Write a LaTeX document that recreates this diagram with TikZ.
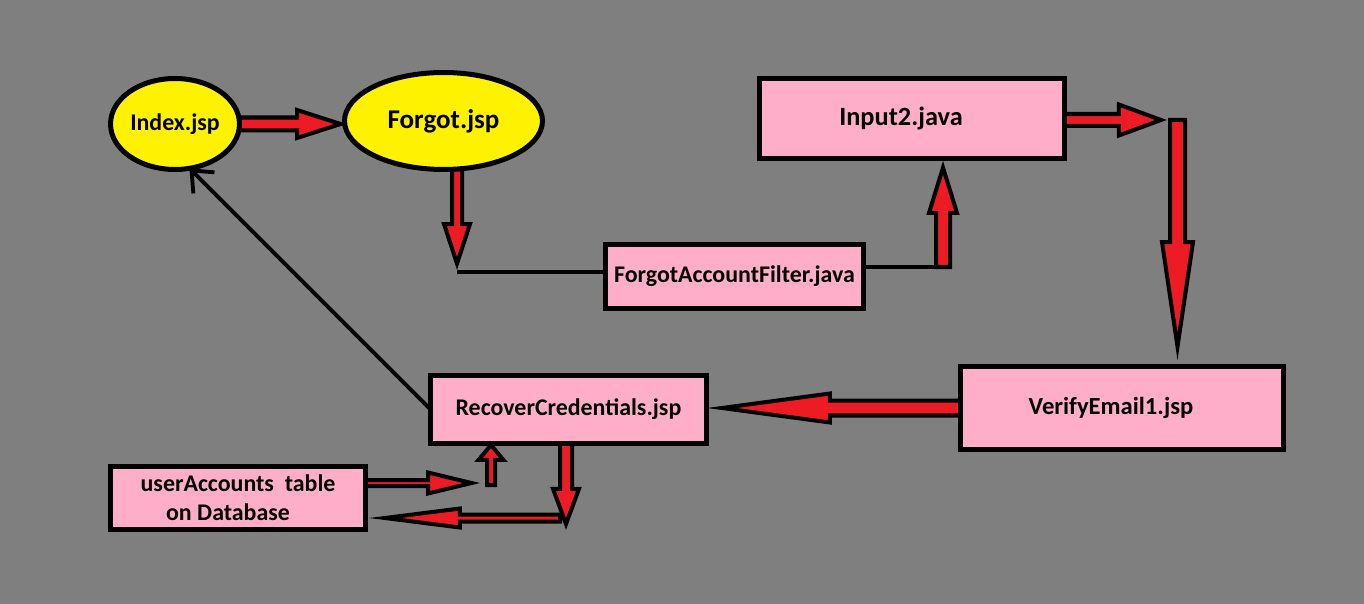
\documentclass[tikz,border=0pt]{standalone}
\usepackage{fontspec}
\setmainfont{Carlito}
\usetikzlibrary{shapes.geometric,calc,arrows.meta}
\definecolor{bgray}{HTML}{7F7F7F}
\definecolor{bpink}{HTML}{FFAEC9}
\definecolor{byel}{HTML}{FFF200}
\definecolor{bred}{HTML}{ED1C24}
\pgfdeclarelayer{back}
\pgfdeclarelayer{arr}
\pgfsetlayers{back,arr,main}
\def\pxpt{0.569055}
% block arrow: #1 start, #2 tip, #3 shaft half width, #4 head half width, #5 head length (px)
\newcommand\barrow[5]{%
\draw[blockarr] let \p1=#1, \p2=#2,
  \n1={veclen(\x2-\x1,\y2-\y1)},
  \n2={(\x2-\x1)/(\n1)}, \n3={(\y2-\y1)/(\n1)},
  \n4={(#3)*\pxpt}, \n5={(#4)*\pxpt}, \n6={(#5)*\pxpt}
 in
 ({\x1-(\n3)*(\n4)},{\y1+(\n2)*(\n4)}) --
 ({\x2-(\n2)*(\n6)-(\n3)*(\n4)},{\y2-(\n3)*(\n6)+(\n2)*(\n4)}) --
 ({\x2-(\n2)*(\n6)-(\n3)*(\n5)},{\y2-(\n3)*(\n6)+(\n2)*(\n5)}) --
 (\p2) --
 ({\x2-(\n2)*(\n6)+(\n3)*(\n5)},{\y2-(\n3)*(\n6)-(\n2)*(\n5)}) --
 ({\x2-(\n2)*(\n6)+(\n3)*(\n4)},{\y2-(\n3)*(\n6)-(\n2)*(\n4)}) --
 ({\x1+(\n3)*(\n4)},{\y1-(\n2)*(\n4)}) -- cycle;}
\begin{document}
\begin{tikzpicture}[x=0.02cm,y=-0.02cm,
  box/.style={draw=black, line width=2.85pt, fill=bpink, inner sep=0pt, outer sep=0pt,
    font=\bfseries\fontsize{13.6}{16.5}\selectfont},
  ell/.style={ellipse, draw=black, line width=2.85pt, fill=byel, inner sep=0pt, outer sep=0pt},
  blockarr/.style={draw=black, fill=bred, line width=2.28pt, line join=miter, miter limit=20},
  conn/.style={draw=black, line width=2.2pt}]
\begin{pgfonlayer}{back}
\fill[bgray] (0,0) rectangle (1364,604);
\end{pgfonlayer}
\useasboundingbox (0,0) rectangle (1364,604);

\node[ell, minimum width=2.58cm, minimum height=1.82cm, font=\bfseries\fontsize{13.6}{16}\selectfont] (idx) at (175,124) {Index.jsp};
\node[ell, minimum width=3.96cm, minimum height=1.94cm, font=\bfseries\fontsize{15.4}{18}\selectfont] (fgt) at (443.5,121) {Forgot.jsp};
\node[box, minimum width=6.1cm, minimum height=1.6cm, font=\bfseries\fontsize{15}{18}\selectfont] (in2) at (912,118.5) {Input2.java\kern0.44cm};
\node[box, minimum width=5.16cm, minimum height=1.28cm] (faf) at (734.5,276.5) {ForgotAccountFilter.java};
\node[box, minimum width=6.46cm, minimum height=1.66cm, font=\bfseries\fontsize{14}{17}\selectfont] (ve) at (1122,408) {VerifyEmail1.jsp\kern0.44cm};
\node[box, minimum width=5.52cm, minimum height=1.36cm] (rc) at (568.5,409.5) {RecoverCredentials.jsp};
\node[box, minimum width=5.1cm, minimum height=1.26cm, align=center] (ua) at (238,498) {userAccounts\ \ table\\on Database\kern0.4cm};

\coordinate (e1) at (457,272);
\coordinate (e2) at (943,267);
\coordinate (e3) at (1177.5,120);
\coordinate (j1) at (471.5,483);
\coordinate (j2) at (491,485);
\coordinate (j3) at (566,524);
\coordinate (j4) at (560,518);

\begin{pgfonlayer}{arr}
\barrow{(idx.east)}{($(idx.east -| fgt.west)+(-4,0)$)}{6.5}{14}{43.5}
\barrow{(e1 |- fgt.south)}{($(e1)+(0,-8.4)$)}{5}{13}{39.6}
\draw[conn] (e1) -- (e1 -| faf.west);
\draw[conn] (e2 -| faf.east) -- (e2);
\barrow{(e2)}{($(e2 |- in2.south)+(0,9.2)$)}{7}{14}{45.3}
\barrow{(e3 -| in2.east)}{($(e3)+(-16.5,0)$)}{6}{15.5}{42.2}
\barrow{(e3)}{($(e3 |- ve.north)+(0,-20)$)}{7.5}{15.5}{104.4}
\barrow{(ve.west)}{($(ve.west -| rc.east)+(15.5,0)$)}{7.5}{14.5}{108}
\barrow{(j1 -| ua.east)}{(j1)}{3}{10.5}{43.5}
\barrow{(j2)}{($(j2 |- rc.south)+(0,1.5)$)}{4}{12.5}{15}
\barrow{(j3 |- rc.south)}{(j3)}{6}{13}{35.2}
\barrow{(j4)}{($(j4 -| ua.east)+(19.5,0)$)}{3.5}{9.5}{75}
\draw[conn, -{Straight Barb[length=10pt,width=17pt]}] (rc.west) -- (idx.-72);
\end{pgfonlayer}
\end{tikzpicture}
\end{document}
